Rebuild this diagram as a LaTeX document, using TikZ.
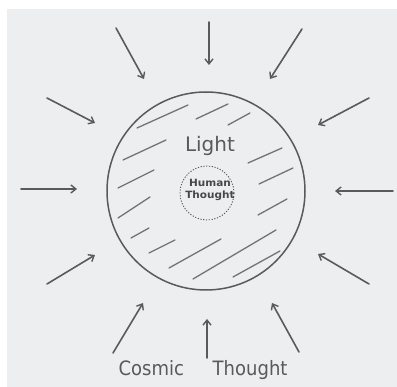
\documentclass[tikz,border=0pt]{standalone}
\usepackage{fontspec}
\setmainfont{DejaVu Sans}
\usetikzlibrary{arrows.meta}
\definecolor{paper}{HTML}{EDEEEF}
\definecolor{ink}{HTML}{5A5A5A}
\tikzset{
  ray/.style={draw=ink, line width=1.6pt, line cap=round, -{Straight Barb[length=5pt,width=8pt,line width=1.4pt]}},
  hatch/.style={draw=ink!85, line width=1.3pt, line cap=round},
  rim/.style={draw=ink, line width=1.5pt},
  inner/.style={draw=ink, line width=0.9pt, dash pattern=on 1.2pt off 1.6pt},
  label/.style={text=ink, inner sep=0pt}
}
\begin{document}
\begin{tikzpicture}[x=1pt,y=-1pt]
\useasboundingbox (0,0) rectangle (397,387);
\fill[white] (0,0) rectangle (397,387);
\fill[paper] (7,9) rectangle (397,387);

% main circle
\node[circle, rim, minimum size=198pt, inner sep=0pt] (sun) at (206,191) {};
% inner dotted circle
\node[circle, inner, minimum size=54pt, inner sep=0pt] (core) at (207,193) {};

% hatch strokes
\foreach \a/\b/\c/\d in {
 137/128/188/105, 196/119/228/104, 228/125/250/113,
 123/160/166/140, 118/188/154/170, 118/218/150/197,
 131/238/149/228, 149/253/175/240, 169/268/221/239,
 193/279/276/230, 233/277/280/251, 248/163/282/148,
 259/184/293/168, 258/215/287/199}
  \draw[hatch] (\a,\b) -- (\c,\d);

% labels
\node[label, font=\fontsize{20}{20}\selectfont] (light) at (210,146) {Light};
\node[label, text=ink!80!black, font=\fontsize{10}{11.5}\selectfont\bfseries, align=center, xscale=1.05] (human) at (210,190) {Human\\Thought};
\node[label, font=\fontsize{18}{18}\selectfont, yscale=1.1] (cosmic) at (203,370) {Cosmic\hskip 1.6em Thought};

% arrows (tail -> head)
\foreach \n/\tx/\ty/\hx/\hy in {
 1/116/28/144/79, 2/209/22/209/65, 3/302/29/270/79,
 4/47/98/95/123, 5/369/98/318/125,
 6/21/189/77/189, 7/393/191/335/191,
 8/47/284/95/255, 9/369/284/318/254,
 10/113/353/143/303, 11/207/358/207/319, 12/299/352/272/303}
{
  \coordinate (t\n) at (\tx,\ty);
  \coordinate (h\n) at (\hx,\hy);
  \draw[ray] (t\n) -- (h\n);
}
\end{tikzpicture}
\end{document}
